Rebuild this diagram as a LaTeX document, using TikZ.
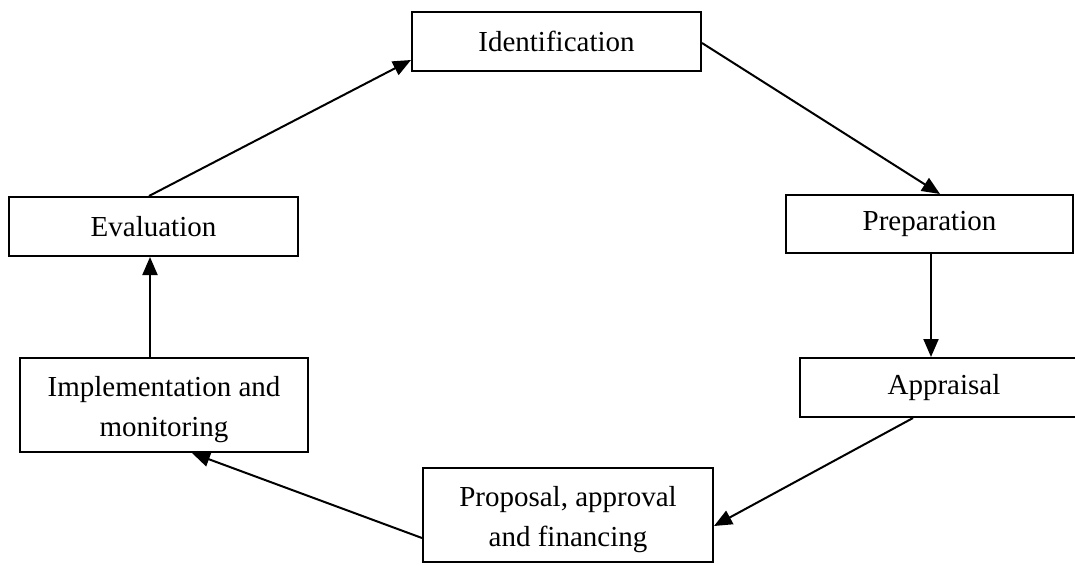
\documentclass[tikz,border=0pt]{standalone}
\usepackage{fontspec}
\setmainfont{Liberation Serif}
\usetikzlibrary{arrows.meta}
\begin{document}
\begin{tikzpicture}[x=1pt,y=-1pt,
  stagebox/.style={draw,line width=2pt,inner sep=0pt,align=center,
    font=\fontsize{29}{40}\selectfont},
  flow/.style={line width=2pt,-{Triangle[length=18pt,width=15pt]}}]
\useasboundingbox (0,0) rectangle (1075,565);
\node[stagebox,minimum width=289pt,minimum height=59pt] (ident) at (556.5,41.5) {Identification};
\node[stagebox,minimum width=287pt,minimum height=58pt] (prep) at (929.5,224) {Preparation};
\node[stagebox,minimum width=288pt,minimum height=59pt] (appr) at (944,387.5) {Appraisal};
\node[stagebox,minimum width=290pt,minimum height=94pt] (prop) at (568,515) {\rule{0pt}{30pt}Proposal, approval\\and financing};
\node[stagebox,minimum width=288pt,minimum height=94pt] (impl) at (164,405) {\rule{0pt}{30pt}Implementation and\\monitoring};
\node[stagebox,minimum width=289pt,minimum height=59pt] (eval) at (153.5,226.5) {Evaluation};
\draw[flow] ([xshift=-4.5pt]eval.north) -- ([yshift=-18.5pt]ident.west);
\draw[flow] ([yshift=-1.5pt]ident.east) -- ([xshift=10.5pt]prep.north);
\draw[flow] ([xshift=1.5pt]prep.south) -- ([xshift=1.5pt]prep.south |- appr.north);
\draw[flow] ([xshift=-31pt]appr.south) -- ([yshift=-11pt]prop.east);
\draw[flow] ([yshift=-23pt]prop.west) -- ([xshift=28pt]impl.south);
\draw[flow] ([xshift=-14pt]impl.north) -- ([xshift=-14pt]impl.north |- eval.south);
\end{tikzpicture}
\end{document}
